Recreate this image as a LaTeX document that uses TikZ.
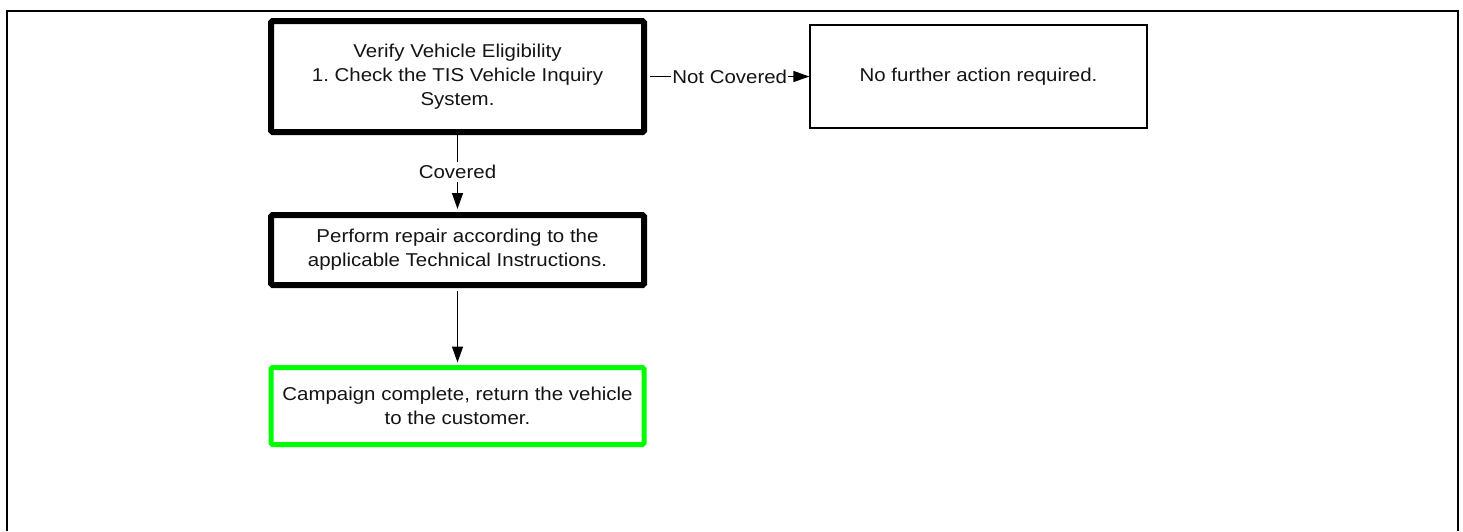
\documentclass[tikz,border=0pt]{standalone}
\usepackage{fontspec}
\setmainfont{Liberation Sans}[FakeStretch=1.1]
\usetikzlibrary{arrows.meta}
\definecolor{brightgreen}{RGB}{0,255,0}
\definecolor{txt}{RGB}{20,20,20}
\frenchspacing
\begin{document}
\begin{tikzpicture}[x=1pt,y=-1pt,
  every node/.style={font=\fontsize{18.6}{24}\selectfont, align=center, inner sep=0pt, text=txt},
  thickbox/.style={draw, line width=6pt, rounded corners=1.5pt, minimum width=373pt},
  greenbox/.style={draw=brightgreen, line width=5pt, rounded corners=1.5pt, minimum width=373pt, minimum height=77pt},
  thinbox/.style={draw, line width=1.3pt, minimum width=337pt, minimum height=103pt},
  conn/.style={line width=1.4pt, -{Triangle[length=16pt,width=11pt]}},
  lbl/.style={fill=white, inner xsep=1pt, inner ysep=3pt}
]
\useasboundingbox (0,0) rectangle (1463,531);
\draw[line width=2.5pt] (7,531) -- (7,11) -- (1458,11) -- (1458,531);

\node[thickbox, minimum height=111pt] (b1) at (457.5,76.5)
  {Verify Vehicle Eligibility\\1. Check the TIS Vehicle Inquiry\\System.};
\node[thickbox, minimum height=70pt] (b2) at (457.5,250)
  {Perform repair according to the\\applicable Technical Instructions.};
\node[greenbox] (b3) at (457.5,406)
  {Campaign complete, return the vehicle\\to the customer.};
\node[thinbox] (b4) at (978.5,76.5) {No further action required.};

\draw[conn] (b1.south) -- node[lbl] (lc) {Covered} ([yshift=3pt]b2.north);
\draw[conn] ([yshift=-3pt]b2.south) -- ([yshift=2.5pt]b3.north);
\draw[conn] ([xshift=3pt]b1.east) -- node[lbl] (ln) {Not Covered} (b4.west);
\end{tikzpicture}
\end{document}
